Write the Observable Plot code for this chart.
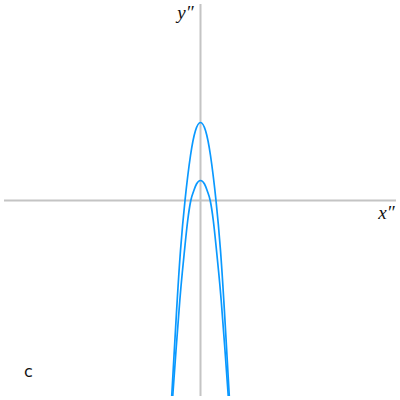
<!DOCTYPE html>
<html>
<head>
<meta charset="utf-8">
<script src="https://cdn.jsdelivr.net/npm/d3@7"></script>
<script src="https://cdn.jsdelivr.net/npm/@observablehq/plot@0.6"></script>
<style>
  html, body { margin: 0; padding: 0; background: #fff; }
  #chart { width: 400px; height: 400px; }
</style>
</head>
<body>
<div id="chart"></div>
<script>
// Outer curve (higher vertex)
const outerX = [-29.5, -28.8, -26.2, -23.3, -20, -15.5, -10, -5, 0, 5, 10, 15.5, 20, 23.3, 26.2, 28.8, 29.5];
const outerY = [-212, -196, -150, -100, -50, 0, 45, 70, 78, 70, 45, 0, -50, -100, -150, -196, -212];
// Inner curve (lower vertex)
const innerX = [-28.6, -27.8, -24.5, -20.7, -18.2, -15.5, -12.8, -9.7, -7, -4, 0, 4, 7, 9.7, 12.8, 15.5, 18.2, 20.7, 24.5, 27.8, 28.6];
const innerY = [-212, -196, -150, -100, -72, -45, -20, 0, 9, 16.5, 20, 16.5, 9, 0, -20, -45, -72, -100, -150, -196, -212];

const labels = [
  {x: -15, y: 188, text: "y\u2033"},
  {x: 186, y: -12, text: "x\u2033"}
];
const panelLabel = [{x: -172, y: -171, text: "c"}];

const outer = outerX.map((x, i) => ({x, y: outerY[i]}));
const inner = innerX.map((x, i) => ({x, y: innerY[i]}));

const chart = Plot.plot({
  width: 400,
  height: 400,
  margin: 4,
  x: {domain: [-196, 196], axis: null},
  y: {domain: [-196, 196], axis: null},
  marks: [
    Plot.ruleY([0], {stroke: "#c4c4c4", strokeWidth: 2}),
    Plot.ruleX([0], {stroke: "#c4c4c4", strokeWidth: 2}),
    Plot.line(outer, {x: "x", y: "y", curve: "natural", stroke: "#0a99ff", strokeWidth: 1.7, clip: true}),
    Plot.line(inner, {x: "x", y: "y", curve: "natural", stroke: "#0a99ff", strokeWidth: 1.7, clip: true}),
    Plot.text(labels, {x: "x", y: "y", text: "text", fontSize: 19, fontStyle: "italic", fontFamily: "Liberation Serif", fill: "#111"}),
    Plot.text(panelLabel, {x: "x", y: "y", text: "text", fontSize: 16, fontFamily: "DejaVu Sans", fill: "#111"})
  ]
});
document.getElementById("chart").appendChild(chart);
</script>
</body>
</html>
